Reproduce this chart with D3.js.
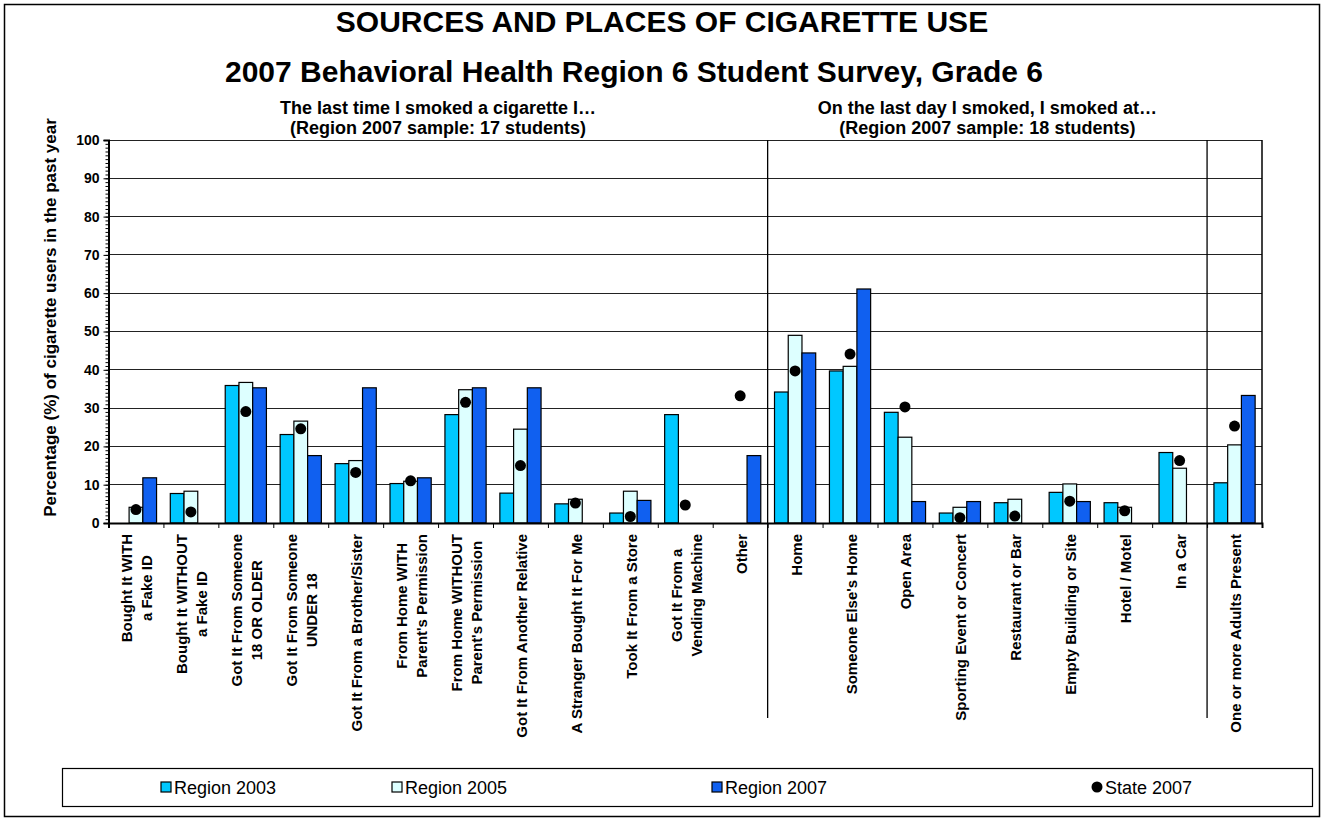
<!DOCTYPE html>
<html><head><meta charset="utf-8">
<script src="https://cdn.jsdelivr.net/npm/d3@7"></script>
<style>body{margin:0;background:#fff}svg{display:block}text{font-family:"Liberation Sans",Arial,sans-serif}</style>
</head><body><svg id="c" width="1325" height="822"></svg>
<script>
// ---- data ----
const categories = [
  "Bought It WITH a Fake ID","Bought It WITHOUT a Fake ID","Got It From Someone 18 OR OLDER",
  "Got It From Someone UNDER 18","Got It From a Brother/Sister","From Home WITH Parent's Permission",
  "From Home WITHOUT Parent's Permission","Got It From Another Relative","A Stranger Bought It For Me",
  "Took It From a Store","Got It From a Vending Machine","Other",
  "Home","Someone Else's Home","Open Area","Sporting Event or Concert","Restaurant or Bar",
  "Empty Building or Site","Hotel / Motel","In a Car","One or more Adults Present"];
const labelLines = [
  ["Bought It WITH","a Fake ID"],["Bought It WITHOUT","a Fake ID"],["Got It From Someone","18 OR OLDER"],
  ["Got It From Someone","UNDER 18"],["Got It From a Brother/Sister"],["From Home WITH","Parent's Permission"],
  ["From Home WITHOUT","Parent's Permission"],["Got It From Another Relative"],["A Stranger Bought It For Me"],
  ["Took It From a Store"],["Got It From a","Vending Machine"],["Other"],
  ["Home"],["Someone Else's Home"],["Open Area"],["Sporting Event or Concert"],["Restaurant or Bar"],
  ["Empty Building or Site"],["Hotel / Motel"],["In a Car"],["One or more Adults Present"]];
const region2003 = [null,7.7,35.9,23.1,15.5,10.3,28.3,7.8,5.0,2.6,28.3,null, 34.2,39.7,28.9,2.6,5.3,8.0,5.3,18.4,10.5];
const region2005 = [4.1,8.3,36.7,26.6,16.3,10.9,34.8,24.5,6.2,8.3,null,null, 49.0,40.9,22.4,4.1,6.2,10.2,4.1,14.3,20.4];
const region2007 = [11.8,null,35.3,17.6,35.3,11.8,35.3,35.3,null,5.9,null,17.6, 44.4,61.1,5.6,5.6,null,5.6,null,null,33.3];
const state2007  = [3.5,2.9,29.1,24.6,13.2,11.0,31.5,15.0,5.2,1.7,4.7,33.2, 39.7,44.1,30.3,1.4,1.8,5.7,3.2,16.3,25.3];
const yTicks = [0,10,20,30,40,50,60,70,80,90,100];
const seriesNames = ["Region 2003","Region 2005","Region 2007","State 2007"];
const sectionTitles = [
  ["The last time I smoked a cigarette I\u2026","(Region 2007 sample: 17 students)"],
  ["On the last day I smoked, I smoked at\u2026","(Region 2007 sample: 18 students)"]];
const sectionRanges = [[0,11],[12,19]];
const separators = [12,20];
const titleText = "SOURCES AND PLACES OF CIGARETTE USE";
const subtitleText = "2007 Behavioral Health Region 6 Student Survey, Grade 6";
const yTitle = "Percentage (%) of cigarette users in the past year";

// ---- styles ----
const colors = ["#00c8ff","#ddffff","#1060f0"];
const svg = d3.select("#c");
const M = {left:108.5, right:1262, top:140, bottom:523};

svg.append("rect").attr("x",4.5).attr("y",4.5).attr("width",1315).attr("height",812)
  .attr("fill","#fff").attr("stroke","#000").attr("stroke-width",1.5);

const x = d3.scaleBand().domain(d3.range(categories.length)).range([M.left,M.right]).padding(0);
const bw = x.bandwidth();
const xs = d3.scaleBand().domain([0,1,2]).range([bw*0.125,bw*0.875]).padding(0);
const y = d3.scaleLinear().domain([0,100]).range([M.bottom,M.top]);

// titles
svg.append("text").attr("x",662).attr("y",32).attr("text-anchor","middle")
  .attr("font-size",30).attr("font-weight","bold").text(titleText);
svg.append("text").attr("x",634).attr("y",82).attr("text-anchor","middle")
  .attr("font-size",30).attr("font-weight","bold").text(subtitleText);

// section headers
sectionTitles.forEach((t,i)=>{
  const r = sectionRanges[i];
  const cx = (x(r[0]) + x(r[1]) + bw)/2;
  t.forEach((line,j)=>{
    svg.append("text").attr("x",cx).attr("y",114 + j*20).attr("text-anchor","middle")
      .attr("font-size",18).attr("font-weight","bold").text(line);
  });
});

// grid
svg.append("g").selectAll("line").data(yTicks.filter(d=>d>0)).join("line")
  .attr("x1",M.left).attr("x2",M.right).attr("y1",d=>y(d)).attr("y2",d=>y(d))
  .attr("stroke","#222").attr("stroke-width",1).attr("shape-rendering","crispEdges");

// right border
svg.append("line").attr("x1",M.right).attr("x2",M.right).attr("y1",M.top).attr("y2",M.bottom)
  .attr("stroke","#000").attr("stroke-width",1.5);

// separators
separators.forEach(s=>{
  svg.append("line").attr("x1",x(s)).attr("x2",x(s)).attr("y1",M.top).attr("y2",718)
    .attr("stroke","#000").attr("stroke-width",1.3);
});

// bars
const series = [region2003, region2005, region2007];
series.forEach((arr,si)=>{
  svg.append("g").selectAll("rect").data(arr.map((v,i)=>({v,i})).filter(d=>d.v!==null)).join("rect")
    .attr("x",d=>x(d.i)+xs(si)).attr("width",xs.bandwidth())
    .attr("y",d=>y(d.v)).attr("height",d=>y(0)-y(d.v))
    .attr("fill",colors[si]).attr("stroke","#000").attr("stroke-width",1.2);
});

// state dots
svg.append("g").selectAll("circle").data(state2007.map((v,i)=>({v,i})).filter(d=>d.v!==null)).join("circle")
  .attr("cx",d=>x(d.i)+xs(1)+xs.bandwidth()/2).attr("cy",d=>y(d.v)).attr("r",5.5).attr("fill","#000");

// y axis
const yAxis = d3.axisLeft(y).tickValues(yTicks).tickSize(5).tickPadding(4).tickFormat(d3.format("d"));
const ga = svg.append("g").attr("transform",`translate(${M.left},0)`).call(yAxis);
ga.select(".domain").attr("stroke","#000").attr("stroke-width",2);
ga.selectAll("text").attr("font-size",14).attr("font-weight","bold").attr("fill","#000");
const minor = d3.axisLeft(y).tickValues(d3.range(0,101,1)).tickSize(3).tickFormat("");
const gm = svg.append("g").attr("transform",`translate(${M.left},0)`).call(minor);
gm.select(".domain").remove();

// y title
svg.append("text").attr("transform",`translate(56,${(M.top+M.bottom)/2 - 14}) rotate(-90)`)
  .attr("text-anchor","middle").attr("font-size",17).attr("font-weight","bold").text(yTitle);

// x axis
const xAxis = d3.axisBottom(d3.scaleLinear().domain([0,categories.length]).range([M.left,M.right]))
  .tickValues(d3.range(0,categories.length+1)).tickSize(5).tickFormat("");
const gx = svg.append("g").attr("transform",`translate(0,${M.bottom})`).call(xAxis);
gx.select(".domain").attr("stroke","#000").attr("stroke-width",2);

// x labels
const lineH = 20, fs = 15, topY = 534;
labelLines.forEach((lines,i)=>{
  const cx = x(i) + bw/2;
  const g = svg.append("g").attr("transform",`translate(${cx},${topY}) rotate(-90)`);
  const ts = lines.map((l,j)=> g.append("text").attr("font-size",fs).attr("font-weight","bold")
      .attr("text-anchor","middle").attr("dominant-baseline","central")
      .attr("y",(j-(lines.length-1)/2)*lineH + 1).text(l));
  const maxW = d3.max(ts, t=>t.node().getComputedTextLength());
  ts.forEach(t=>t.attr("x",-maxW/2));
});

// legend
svg.append("rect").attr("x",62.5).attr("y",768.5).attr("width",1250).attr("height",38)
  .attr("fill","#fff").attr("stroke","#000").attr("stroke-width",1.2);
const legX = [161,392,712,1092];
seriesNames.forEach((n,i)=>{
  if(i<3){
    svg.append("rect").attr("x",legX[i]).attr("y",782).attr("width",10).attr("height",10)
      .attr("fill",colors[i]).attr("stroke","#000").attr("stroke-width",1.2);
  } else {
    svg.append("circle").attr("cx",legX[i]+5).attr("cy",787).attr("r",5.5).attr("fill","#000");
  }
  svg.append("text").attr("x",legX[i]+13).attr("y",794).attr("font-size",18).text(n);
});
</script></body></html>
